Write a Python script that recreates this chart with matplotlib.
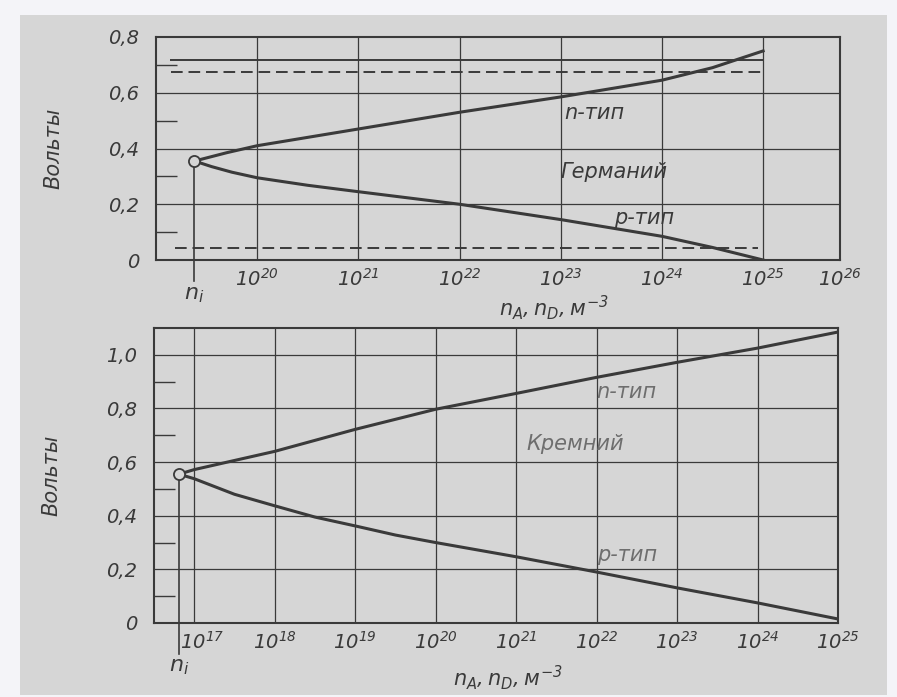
import matplotlib.pyplot as plt
from matplotlib.patches import Rectangle
from matplotlib.transforms import ScaledTranslation

# Германий: уровень Ферми в зависимости от концентрации примеси (lg n, В)
ge_ni = 19.38
ge_n_lg = [19.38, 19.7, 20.0, 21.0, 22.0, 23.0, 24.0, 24.5, 25.0]
ge_n_v = [0.355, 0.385, 0.41, 0.47, 0.53, 0.585, 0.645, 0.69, 0.75]
ge_p_lg = [19.38, 19.55, 19.75, 20.0, 20.5, 21.0, 22.0, 23.0, 24.0, 24.5, 25.0]
ge_p_v = [0.355, 0.335, 0.315, 0.295, 0.268, 0.245, 0.2, 0.145, 0.085, 0.045, 0.0]
ge_levels = [0.718, 0.675, 0.043]   # Ec, Ed, Ea
ge_ticks = [20, 21, 22, 23, 24, 25]

# Кремний
si_ni = 16.81
si_n_lg = [16.81, 17, 18, 19, 20, 21, 22, 23, 24, 25]
si_n_v = [0.555, 0.572, 0.64, 0.722, 0.797, 0.856, 0.916, 0.972, 1.025, 1.085]
si_p_lg = [16.81, 17, 17.5, 18, 18.5, 19, 19.5, 20, 21, 22, 23, 24, 25]
si_p_v = [0.555, 0.538, 0.48, 0.437, 0.395, 0.362, 0.328, 0.3, 0.247, 0.19, 0.131, 0.075, 0.015]
si_ticks = [17, 18, 19, 20, 21, 22, 23, 24, 25]

paper = '#d6d6d6'
ink = '#3a3a3a'
plt.rcParams['font.family'] = ['DejaVu Sans']
plt.rcParams['mathtext.fontset'] = 'custom'
plt.rcParams['mathtext.rm'] = 'DejaVu Sans:italic'
plt.rcParams['mathtext.it'] = 'DejaVu Sans:italic'

fig = plt.figure(figsize=(8.97, 6.97), dpi=100)
fig.patch.set_facecolor('#f4f4f8')
fig.patches.append(Rectangle((20 / 897, 2 / 697), 867 / 897, 680 / 697,
                             transform=fig.transFigure, facecolor=paper,
                             edgecolor='none', zorder=-10))


def setup_axes(ax, xlim, ylim, yticks, yminor, xticks, xlabels):
    ax.set_facecolor(paper)
    ax.set_xlim(*xlim)
    ax.set_ylim(*ylim)
    for s in ax.spines.values():
        s.set_linewidth(1.5)
        s.set_color(ink)
    ax.set_yticks(yticks)
    ax.set_yticklabels([str(v).replace('.', ',') if v else '0' for v in yticks],
                       fontsize=14, style='italic', color=ink)
    ax.set_yticks(yminor, minor=True)
    ax.tick_params(axis='y', which='major', length=0, pad=12)
    ax.tick_params(axis='y', which='minor', direction='in', length=15,
                   width=1.0, color=ink)
    ax.set_xticks(xticks)
    ax.set_xticklabels(xlabels, fontsize=14, color=ink)
    ax.tick_params(axis='x', length=0, pad=6)
    for t in xticks:
        if xlim[0] < t < xlim[1]:
            ax.axvline(t, color=ink, lw=0.9, zorder=1)
    for v in yticks:
        if ylim[0] < v < ylim[1]:
            ax.axhline(v, color=ink, lw=0.9, zorder=1)


def decade(e):
    return r'$10^{%d}$' % e


# --- Германий ---
ax1 = fig.add_axes([156 / 897, 1 - 260 / 697, 684 / 897, 223 / 697])
setup_axes(ax1, (19.0, 25.76), (0, 0.8), [0, 0.2, 0.4, 0.6, 0.8],
           [0.1, 0.3, 0.5, 0.7], ge_ticks + [25.76],
           [decade(e) for e in ge_ticks] + [decade(26)])
ax1.hlines(ge_levels[0], 19.14, 25.0, color=ink, lw=1.4)
ax1.hlines(ge_levels[1:], [19.15, 19.19], [25.0, 24.95], color=ink, lw=1.4,
           linestyles=[(0, (6, 3))])
ax1.plot(ge_n_lg, ge_n_v, color=ink, lw=2.2, zorder=3)
ax1.plot(ge_p_lg, ge_p_v, color=ink, lw=2.2, zorder=3)
ax1.plot([ge_ni, ge_ni], [ge_n_v[0], -0.075], color=ink, lw=1.2, clip_on=False)
ax1.plot(ge_ni, ge_n_v[0], 'o', ms=8, mfc=paper, mec=ink, mew=1.3, zorder=4)
ax1.text(ge_ni, -0.09, r'$n_i$', ha='center', va='top', fontsize=16, color=ink)
ax1.text(22.93, -0.17, r'$n_A, n_D, м^{-3}$', ha='center', va='center',
         fontsize=15, color=ink)
ax1.set_ylabel('Вольты', fontsize=15, style='italic', color=ink, labelpad=32)
ax1.text(23.03, 0.527, 'n-тип', fontsize=15, style='italic', color=ink, va='center')
ax1.text(23.0, 0.316, 'Германий', fontsize=15, style='italic', color=ink, va='center')
ax1.text(23.53, 0.151, 'p-тип', fontsize=15, style='italic', color=ink, va='center')

# --- Кремний ---
ax2 = fig.add_axes([154 / 897, 1 - 623 / 697, 684 / 897, 295 / 697])
setup_axes(ax2, (16.5, 25.0), (0, 1.1), [0, 0.2, 0.4, 0.6, 0.8, 1.0],
           [0.1, 0.3, 0.5, 0.7, 0.9], si_ticks, [decade(e) for e in si_ticks])
# первую подпись сдвигаем вправо от линии n_i
first = ax2.get_xticklabels()[0]
first.set_transform(first.get_transform() + ScaledTranslation(6 / 72, 0, fig.dpi_scale_trans))
ax2.plot(si_n_lg, si_n_v, color=ink, lw=2.2, zorder=3)
ax2.plot(si_p_lg, si_p_v, color=ink, lw=2.2, zorder=3)
ax2.plot([si_ni, si_ni], [si_n_v[0], -0.115], color=ink, lw=1.2, clip_on=False)
ax2.plot(si_ni, si_n_v[0], 'o', ms=8, mfc=paper, mec=ink, mew=1.3, zorder=4)
ax2.text(si_ni, -0.125, r'$n_i$', ha='center', va='top', fontsize=16, color=ink)
ax2.text(20.9, -0.205, r'$n_A, n_D, м^{-3}$', ha='center', va='center',
         fontsize=15, color=ink)
ax2.set_ylabel('Вольты', fontsize=15, style='italic', color=ink, labelpad=32)
light = '#6e6e6e'
ax2.text(22.0, 0.863, 'n-тип', fontsize=15, style='italic', color=light, va='center')
ax2.text(21.13, 0.669, 'Кремний', fontsize=15, style='italic', color=light, va='center')
ax2.text(22.0, 0.254, 'p-тип', fontsize=15, style='italic', color=light, va='center')

plt.savefig('out.png', dpi=100, facecolor=fig.get_facecolor())
